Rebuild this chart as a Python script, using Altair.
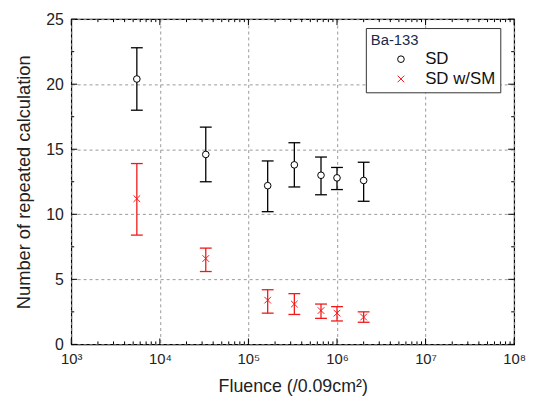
import altair as alt
import pandas as pd

# ---- data ----
fluence = [5.5e3, 3.3e4, 1.65e5, 3.3e5, 6.6e5, 1.0e6, 2.0e6]
sd_mean = [20.4, 14.6, 12.2, 13.8, 13.0, 12.8, 12.6]
sd_low = [18.0, 12.5, 10.2, 12.1, 11.5, 11.9, 11.0]
sd_high = [22.8, 16.7, 14.1, 15.5, 14.4, 13.6, 14.0]
sm_mean = [11.2, 6.6, 3.4, 3.1, 2.6, 2.4, 2.1]
sm_low = [8.4, 5.6, 2.4, 2.3, 2.0, 1.8, 1.7]
sm_high = [13.9, 7.4, 4.2, 3.9, 3.1, 2.9, 2.5]
series_names = ["SD", "SD w/SM"]
legend_title = "Ba-133"

x_major = [1e3, 1e4, 1e5, 1e6, 1e7, 1e8]
x_minor = [k * 10 ** d for d in range(3, 8) for k in range(2, 10)]
y_major = [0, 5, 10, 15, 20, 25]
y_minor = [2.5, 7.5, 12.5, 17.5, 22.5]

W, H = 448, 329
FONT = "Liberation Sans"

rows = []
for i in range(len(fluence)):
    rows.append(dict(x=fluence[i], y=sd_mean[i], lo=sd_low[i], hi=sd_high[i], s=series_names[0]))
    rows.append(dict(x=fluence[i], y=sm_mean[i], lo=sm_low[i], hi=sm_high[i], s=series_names[1]))
df = pd.DataFrame(rows)

series_colors = ["black", "#f01818"]
xscale = alt.Scale(type="log", domain=[1e3, 1e8], nice=False)
yscale = alt.Scale(domain=[0, 25], nice=False)
cscale = alt.Scale(domain=series_names, range=series_colors)
sscale = alt.Scale(domain=series_names, range=["circle", "M-1,-1L1,1M-1,1L1,-1"])
leg = alt.Legend(title=legend_title)

sup = "['⁰','¹','²','³','⁴','⁵','⁶','⁷','⁸','⁹']"
xaxis = alt.Axis(
    title="Fluence (/0.09cm²)", values=x_major, ticks=False, domain=False,
    grid=True, gridDash=[3, 3], gridColor="#999999", gridWidth=1,
    labelExpr="'10' + " + sup + "[round(log(datum.value)/LN10)]",
    labelFont=FONT, labelFontSize=15, labelColor="#222222", labelPadding=7,
    titleFont=FONT, titleFontSize=18, titleFontWeight="normal", titleColor="#222222",
    titlePadding=12, labelFlush=False,
)
yaxis = alt.Axis(
    title="Number of repeated calculation", values=y_major, ticks=False, domain=False,
    grid=True, gridDash=[3, 3], gridColor="#999999", gridWidth=1,
    labelFont=FONT, labelFontSize=16, labelColor="#222222", labelPadding=8,
    titleFont=FONT, titleFontSize=18.5, titleFontWeight="normal", titleColor="#222222",
    titlePadding=12, labelFlush=False,
)

base = alt.Chart(df)
col = alt.Color("s:N", scale=cscale, legend=leg)

bars = base.mark_rule(strokeWidth=1.3).encode(
    x=alt.X("x:Q", scale=xscale, axis=xaxis),
    y=alt.Y("lo:Q", scale=yscale, axis=yaxis),
    y2="hi:Q",
    color=col,
)
cap_lo = base.mark_rule(strokeWidth=1.3, xOffset=-6, x2Offset=6).encode(
    x=alt.X("x:Q", scale=xscale), x2="x:Q", y=alt.Y("lo:Q", scale=yscale),
    color=col,
)
cap_hi = base.mark_rule(strokeWidth=1.3, xOffset=-6, x2Offset=6).encode(
    x=alt.X("x:Q", scale=xscale), x2="x:Q", y=alt.Y("hi:Q", scale=yscale),
    color=col,
)
pts = base.mark_point(filled=False, fill="white", fillOpacity=1, size=45, strokeWidth=1.0).encode(
    x=alt.X("x:Q", scale=xscale),
    y=alt.Y("y:Q", scale=yscale),
    color=col,
    shape=alt.Shape("s:N", scale=sscale, legend=leg),
)

# inward ticks on all four sides
tx_major = pd.DataFrame({"v": x_major})
tx_minor = pd.DataFrame({"v": x_minor})
ty_major = pd.DataFrame({"v": y_major})
ty_minor = pd.DataFrame({"v": y_minor})

def xticks(d, L):
    bot = alt.Chart(d).mark_rule(color="black", strokeWidth=1).encode(
        x=alt.X("v:Q", scale=xscale), y=alt.value(H), y2=alt.value(H - L))
    top = alt.Chart(d).mark_rule(color="black", strokeWidth=1).encode(
        x=alt.X("v:Q", scale=xscale), y=alt.value(0), y2=alt.value(L))
    return bot + top

def yticks(d, L):
    lef = alt.Chart(d).mark_rule(color="black", strokeWidth=1).encode(
        y=alt.Y("v:Q", scale=yscale), x=alt.value(0), x2=alt.value(L))
    rig = alt.Chart(d).mark_rule(color="black", strokeWidth=1).encode(
        y=alt.Y("v:Q", scale=yscale), x=alt.value(W), x2=alt.value(W - L))
    return lef + rig

chart = alt.layer(
    bars, cap_lo, cap_hi, pts,
    xticks(tx_major, 6), xticks(tx_minor, 3), yticks(ty_major, 6), yticks(ty_minor, 3),
).properties(
    width=W, height=H,
    autosize=alt.AutoSizeParams(type="none"),
    padding={"left": 64, "top": 9, "right": 12, "bottom": 55},
).configure_view(
    stroke="black", strokeWidth=1.2,
).configure_legend(
    orient="none", legendX=298, legendY=9,
    strokeColor="#333333", fillColor="white", padding=5, cornerRadius=0,
    titleFont=FONT, titleFontSize=15, titleFontWeight="normal", titleColor="#1a2a4a",
    labelFont=FONT, labelFontSize=17, labelColor="#111111",
    symbolSize=45, symbolStrokeWidth=1.0, rowPadding=2, labelOffset=16,
    symbolOffset=22, titlePadding=3, labelLimit=200,
)

chart.save("out.html", embed_options={"renderer": "svg", "actions": False})
